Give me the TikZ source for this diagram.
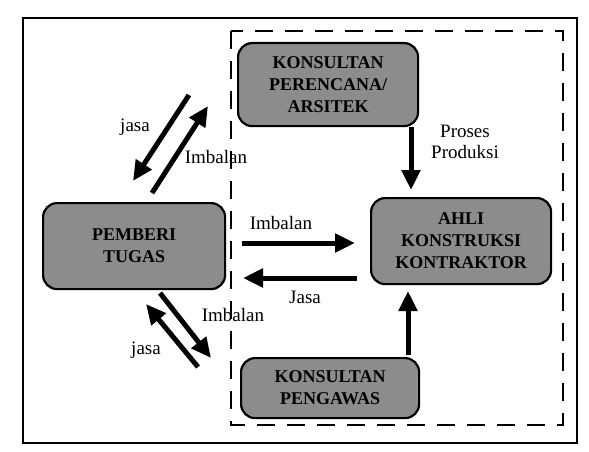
\documentclass[tikz,border=0pt]{standalone}
\usepackage{fontspec}
\setmainfont{Liberation Serif}
\usetikzlibrary{arrows.meta}
\begin{document}
\begin{tikzpicture}[x=1pt,y=-1pt,
  box/.style={draw=black, line width=2.2pt, rounded corners=14pt, fill=black!45,
    align=center, font=\fontsize{18}{22}\selectfont\bfseries, text=black,
    inner sep=0pt, anchor=north west},
  lbl/.style={font=\fontsize{19}{21}\selectfont, inner sep=0pt},
  flow/.style={line width=5pt, -{Triangle[length=20pt,width=18pt]}}]
\useasboundingbox (0,0) rectangle (589,452);
% outer frame
\draw[line width=2.5pt] (23,18) rectangle (577,443);
% dashed region
\draw[line width=1.8pt, dash pattern=on 18pt off 12pt] (231,31) rectangle (563,425);
% boxes
\node[box, minimum width=180pt, minimum height=83pt] (kp) at (237,42) {KONSULTAN\\PERENCANA/\\ARSITEK};
\node[box, minimum width=182pt, minimum height=86pt] (pt) at (42,202) {PEMBERI\\TUGAS};
\node[box, minimum width=180pt, minimum height=86pt] (ak) at (370,197) {AHLI\\KONSTRUKSI\\KONTRAKTOR};
\node[box, minimum width=178pt, minimum height=60pt] (pg) at (240,357) {KONSULTAN\\PENGAWAS};
% anchors for arrows
\coordinate (a1) at (411,127); \coordinate (a2) at (411,190);
\coordinate (b1) at (408,355); \coordinate (b2) at (408,291);
\coordinate (c1) at (242,243); \coordinate (c2) at (355,243);
\coordinate (d1) at (357,278); \coordinate (d2) at (243,278);
\coordinate (e1) at (189,95);  \coordinate (e2) at (133,181);
\coordinate (f1) at (152,193); \coordinate (f2) at (208,106);
\coordinate (g1) at (160,293); \coordinate (g2) at (211,358);
\coordinate (h1) at (198,367); \coordinate (h2) at (146,304);
% arrows
\draw[flow] (a1) -- (a2);
\draw[flow] (b1) -- (b2);
\draw[flow] (c1) -- (c2);
\draw[flow] (d1) -- (d2);
\draw[flow] (e1) -- (e2);
\draw[flow] (f1) -- (f2);
\draw[flow] (g1) -- (g2);
\draw[flow] (h1) -- (h2);
% labels
\node[lbl, align=center] (lp) at (465,142) {Proses\\Produksi};
\node[lbl] (l1) at (281,223) {Imbalan};
\node[lbl] (l2) at (305,297) {Jasa};
\node[lbl] (l3) at (135,127) {jasa};
\node[lbl] (l4) at (216,157) {Imbalan};
\node[lbl] (l5) at (233,315) {Imbalan};
\node[lbl] (l6) at (146,350) {jasa};
\end{tikzpicture}
\end{document}
